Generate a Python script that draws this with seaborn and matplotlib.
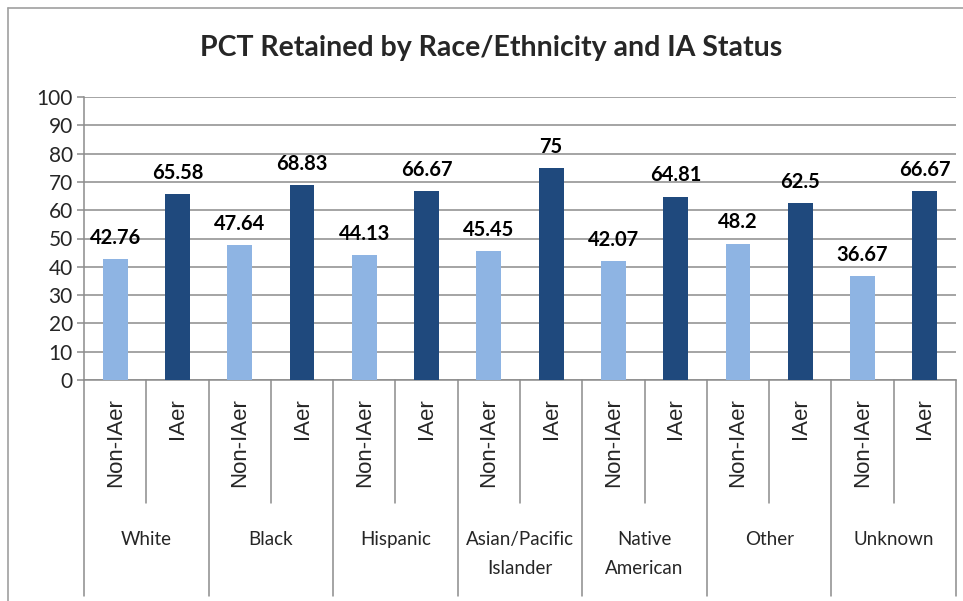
import pandas as pd
import matplotlib.pyplot as plt
import matplotlib.transforms as mtransforms
from matplotlib.lines import Line2D
import seaborn as sns

groups = ['White', 'Black', 'Hispanic', 'Asian/Pacific\nIslander',
          'Native\nAmerican', 'Other', 'Unknown']
statuses = ['Non-IAer', 'IAer']
non_iaer = [42.76, 47.64, 44.13, 45.45, 42.07, 48.2, 36.67]
iaer = [65.58, 68.83, 66.67, 75, 64.81, 62.5, 66.67]
yticks = list(range(0, 101, 10))

df = pd.DataFrame({
    'group': groups * 2,
    'status': ['Non-IAer'] * len(groups) + ['IAer'] * len(groups),
    'value': non_iaer + iaer,
})

sns.set_theme(style='white')
plt.rcParams['font.family'] = ['Lato', 'DejaVu Sans']

W, H = 963, 601
fig = plt.figure(figsize=(W / 100, H / 100), dpi=100)
ax = fig.add_axes([84 / W, 1 - 380 / H, (956 - 84) / W, 283 / H])

grid_c = '#8c8c8c'
sns.barplot(data=df, x='group', y='value', hue='status', hue_order=statuses,
            order=groups, palette=['#8EB4E3', '#1F497D'], width=1.0, gap=0.6,
            saturation=1, errorbar=None, legend=False, ax=ax, zorder=3,
            linewidth=0)

for cont in ax.containers:
    ax.bar_label(cont, labels=[f'{v:g}' for v in cont.datavalues],
                 padding=8, fontsize=14.5, fontweight='bold', color='black')

ax.set_xlim(-0.5, len(groups) - 0.5)
ax.set_ylim(0, 100)
ax.set_yticks(yticks)
ax.set_yticklabels([str(t) for t in yticks], fontsize=15)
ax.yaxis.grid(True, color=grid_c, linewidth=1.1, zorder=0)
ax.set_axisbelow(True)
ax.tick_params(axis='y', length=5, width=1.1, color=grid_c, pad=3, left=True)
ax.set_xticks([])
ax.set_xlabel('')
ax.set_ylabel('')
for side in ['top', 'right']:
    ax.spines[side].set_visible(False)
for side in ['left', 'bottom']:
    ax.spines[side].set_color(grid_c)
    ax.spines[side].set_linewidth(1.1)

# multi-level category axis
trans = mtransforms.blended_transform_factory(ax.transData, ax.transAxes)
for i in range(len(groups) + 1):
    x = i - 0.5
    ax.plot([x, x], [0, -0.763], transform=trans, color=grid_c,
            linewidth=1.1, clip_on=False)
for i in range(len(groups)):
    ax.plot([i, i], [0, -0.435], transform=trans, color=grid_c,
            linewidth=1.1, clip_on=False)
    for off, lab in zip([-0.25, 0.25], statuses):
        ax.text(i + off, -0.065, lab, transform=trans, rotation=90,
                ha='center', va='top', fontsize=16,
                family=['Liberation Sans', 'DejaVu Sans'])
    ax.text(i, -0.535, groups[i], transform=trans, ha='center', va='top',
            fontsize=13.5, linespacing=1.8)

fig.text(491 / W, 1 - 48 / H,
         'PCT Retained by Race/Ethnicity and IA Status',
         ha='center', va='center', fontsize=20.5, fontweight='bold')

# chart border
fig.add_artist(Line2D([8 / W, 8 / W], [0, 1 - 8 / H], color='#a0a0a0', linewidth=1.2))
fig.add_artist(Line2D([8 / W, 1], [1 - 8 / H, 1 - 8 / H], color='#a0a0a0', linewidth=1.2))

fig.savefig('out.png', dpi=100)
